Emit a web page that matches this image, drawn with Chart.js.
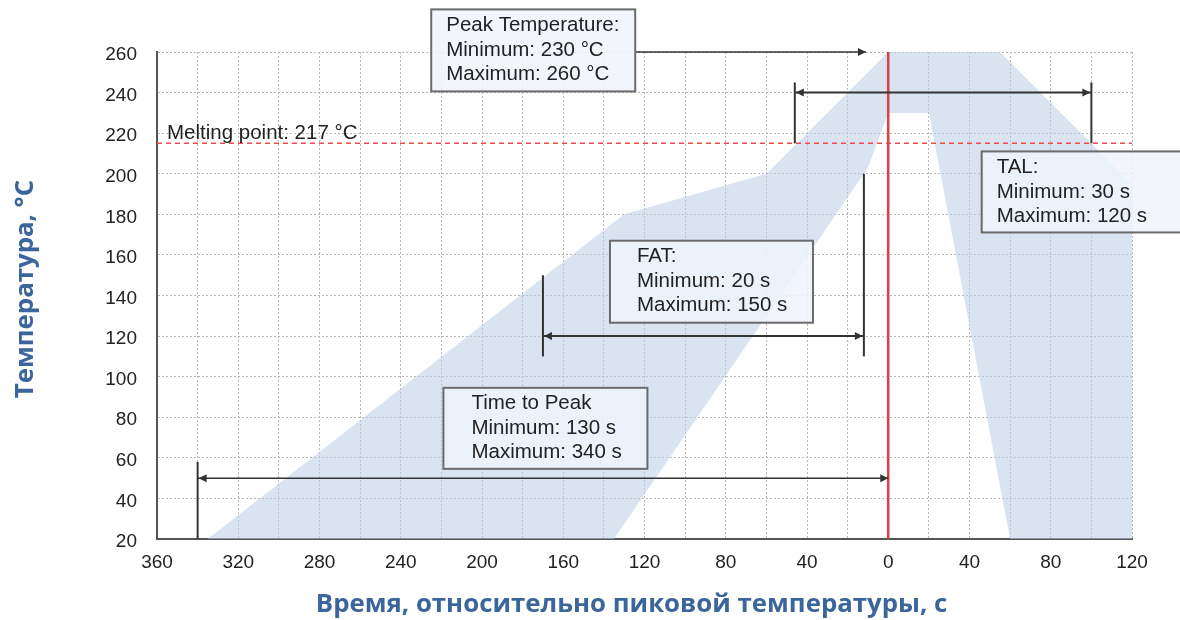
<!DOCTYPE html>
<html>
<head>
<meta charset="utf-8">
<script src="https://cdn.jsdelivr.net/npm/chart.js@4/dist/chart.umd.min.js"></script>
<style>
  html, body { margin: 0; padding: 0; background: #fff; }
</style>
</head>
<body>
<canvas id="reflowChart" width="1180" height="620"></canvas>
<script>
// --- Datos ---
const bandOuterX = [-335, -130, -60, 0, 55, 120];
const bandOuterY = [20, 180, 200, 260, 260, 195];
const bandInnerX = [120, 60, 20, 0, -10, -135];
const bandInnerY = [20, 20, 230, 230, 203, 20];

const meltingPoint = 215;
const peakTime = 0;
const xRange = [-360, 120];
const yRange = [20, 260];
const extraGridY = [250];

const talSpan = [-46, 100];   const talLevel = 240; const talTop = 245; const talBottom = 215;
const fatSpan = [-170, -12];  const fatLevel = 120; const fatTops = [150, 200]; const fatBottom = 110;
const ttpSpan = [-340, 0];    const ttpLevel = 50;  const ttpTop = 58;
const peakArrowEnd = -11;

const peakText = ['Peak Temperature:', 'Minimum: 230 °C', 'Maximum: 260 °C'];
const fatText = ['FAT:', 'Minimum: 20 s', 'Maximum: 150 s'];
const talText = ['TAL:', 'Minimum: 30 s', 'Maximum: 120 s'];
const ttpText = ['Time to Peak', 'Minimum: 130 s', 'Maximum: 340 s'];
const meltingText = 'Melting point: 217 °C';

const bandPoints = bandOuterX.map((x, i) => ({x, y: bandOuterY[i]}))
    .concat(bandInnerX.map((x, i) => ({x, y: bandInnerY[i]})));

const tickFont = {family: "'Liberation Sans', Arial, sans-serif", size: 19};
const titleFont = {family: "'Open Sans', sans-serif", size: 25.8, weight: 'bold'};
const titleColor = '#3b669b';
const gridColor = '#b8b8b8';
const ink = '#333';

// cajas de texto: ancla en valores del eje, tamaño en px
const boxes = [
    {x: -225, y: 281, w: 204, h: 82, padX: 15, lines: peakText},
    {x: -137, y: 167, w: 203, h: 82, padX: 27, lines: fatText},
    {x: 46,   y: 211, w: 220, h: 81, padX: 15, lines: talText},
    {x: -219, y: 94.5, w: 204, h: 81, padX: 28, lines: ttpText}
];

function arrowHead(ctx, x, y, dir) {
    ctx.beginPath();
    ctx.moveTo(x, y);
    ctx.lineTo(x - dir * 8, y - 4);
    ctx.lineTo(x - dir * 8, y + 4);
    ctx.closePath();
    ctx.fill();
}

function line(ctx, x1, y1, x2, y2) {
    ctx.beginPath();
    ctx.moveTo(x1, y1);
    ctx.lineTo(x2, y2);
    ctx.stroke();
}

const notesPlugin = {
    id: 'reflowNotes',
    afterDatasetsDraw(chart) {
        const {ctx, scales: {x, y}} = chart;
        ctx.save();
        ctx.strokeStyle = ink;
        ctx.fillStyle = ink;
        ctx.lineWidth = 2;

        // TAL
        const tl = x.getPixelForValue(talSpan[0]), tr = x.getPixelForValue(talSpan[1]);
        line(ctx, tl, y.getPixelForValue(talTop), tl, y.getPixelForValue(talBottom));
        line(ctx, tr, y.getPixelForValue(talTop), tr, y.getPixelForValue(talBottom));
        const ty = y.getPixelForValue(talLevel);
        line(ctx, tl, ty, tr, ty);
        arrowHead(ctx, tl + 1, ty, -1);
        arrowHead(ctx, tr - 1, ty, 1);

        // FAT
        const fl = x.getPixelForValue(fatSpan[0]), fr = x.getPixelForValue(fatSpan[1]);
        const fb = y.getPixelForValue(fatBottom);
        line(ctx, fl, y.getPixelForValue(fatTops[0]), fl, fb);
        line(ctx, fr, y.getPixelForValue(fatTops[1]), fr, fb);
        const fy = y.getPixelForValue(fatLevel);
        line(ctx, fl, fy, fr, fy);
        arrowHead(ctx, fl + 1, fy, -1);
        arrowHead(ctx, fr - 1, fy, 1);

        // Time to Peak
        const pl = x.getPixelForValue(ttpSpan[0]), pr = x.getPixelForValue(ttpSpan[1]);
        line(ctx, pl, y.getPixelForValue(ttpTop), pl, y.getPixelForValue(yRange[0]));
        const py = y.getPixelForValue(ttpLevel);
        ctx.lineWidth = 1.5;
        line(ctx, pl, py, pr, py);
        arrowHead(ctx, pl + 1, py, -1);
        arrowHead(ctx, pr, py, 1);

        // Peak Temperature conector
        const pk = boxes[0];
        const boxRight = x.getPixelForValue(pk.x) + pk.w;
        const ky = y.getPixelForValue(yRange[1]);
        line(ctx, boxRight, ky, x.getPixelForValue(peakArrowEnd), ky);
        arrowHead(ctx, x.getPixelForValue(peakArrowEnd), ky, 1);

        // cajas
        ctx.font = '20.5px ' + tickFont.family;
        ctx.textBaseline = 'middle';
        boxes.forEach(b => {
            const bx = x.getPixelForValue(b.x), by = y.getPixelForValue(b.y);
            ctx.fillStyle = 'rgba(240,245,251,0.85)';
            ctx.fillRect(bx, by, b.w, b.h);
            ctx.strokeStyle = '#6b6b6b';
            ctx.lineWidth = 2;
            ctx.strokeRect(bx, by, b.w, b.h);
            ctx.fillStyle = '#222';
            b.lines.forEach((t, i) => ctx.fillText(t, bx + b.padX, by + 16 + i * 24.5));
        });

        // Melting point
        ctx.fillText(meltingText, x.getPixelForValue(xRange[0]) + 10, y.getPixelForValue(meltingPoint) - 10);
        ctx.restore();
    }
};

const ctx = document.getElementById('reflowChart').getContext('2d');
const reflowChart = new Chart(ctx, {
    type: 'line',
    data: {
        datasets: [
            {
                data: [{x: peakTime, y: yRange[0]}, {x: peakTime, y: yRange[1]}],
                borderColor: '#e63c46',
                borderWidth: 2.5,
                pointRadius: 0,
                fill: false,
                order: 1
            },
            {
                data: [{x: xRange[0], y: meltingPoint}, {x: xRange[1], y: meltingPoint}],
                borderColor: '#ee4b4b',
                borderWidth: 1.5,
                borderDash: [5, 4],
                pointRadius: 0,
                fill: false,
                order: 2
            },
            {
                data: bandPoints,
                borderWidth: 0,
                borderColor: 'rgba(0,0,0,0)',
                backgroundColor: 'rgba(188,206,228,0.55)',
                pointRadius: 0,
                tension: 0,
                fill: 'shape',
                order: 3
            }
        ]
    },
    options: {
        responsive: false,
        animation: false,
        devicePixelRatio: 1,
        layout: {padding: {top: 52, right: 48, left: 0, bottom: 0}},
        plugins: {
            legend: {display: false},
            tooltip: {enabled: false}
        },
        scales: {
            x: {
                type: 'linear',
                min: xRange[0],
                max: xRange[1],
                afterFit: s => { s.height = 81; },
                ticks: {
                    stepSize: 20,
                    autoSkip: false,
                    maxRotation: 0,
                    padding: 12,
                    font: tickFont,
                    color: '#222',
                    callback: v => (v % 40 === 0 ? String(Math.abs(v)) : '')
                },
                grid: {color: gridColor, lineWidth: 1, drawTicks: false},
                border: {color: '#555', width: 2, dash: [2, 2]},
                title: {
                    display: true,
                    // espacios al final para correr el título un poco a la izquierda
                    text: 'Время, относительно пиковой температуры, с\u2002\u2002',
                    font: titleFont,
                    color: titleColor,
                    padding: {top: 0, bottom: 0}
                }
            },
            y: {
                min: yRange[0],
                max: yRange[1],
                afterFit: s => { s.width = 157; },
                ticks: {
                    stepSize: 10,
                    padding: 20,
                    labelOffset: 3,
                    font: tickFont,
                    color: '#222',
                    callback: v => (v % 20 === 0 ? String(v) : '')
                },
                grid: {
                    color: c => (c.tick && (c.tick.value % 20 === 0 || extraGridY.includes(c.tick.value)) ? gridColor : 'rgba(0,0,0,0)'),
                    lineWidth: 1,
                    drawTicks: false
                },
                border: {color: '#555', width: 2, dash: [2, 2]},
                title: {
                    display: true,
                    text: '\u2002Температура, °C',
                    font: titleFont,
                    color: titleColor,
                    padding: {top: 10, bottom: 0}
                }
            }
        }
    },
    plugins: [notesPlugin]
});
</script>
</body>
</html>
